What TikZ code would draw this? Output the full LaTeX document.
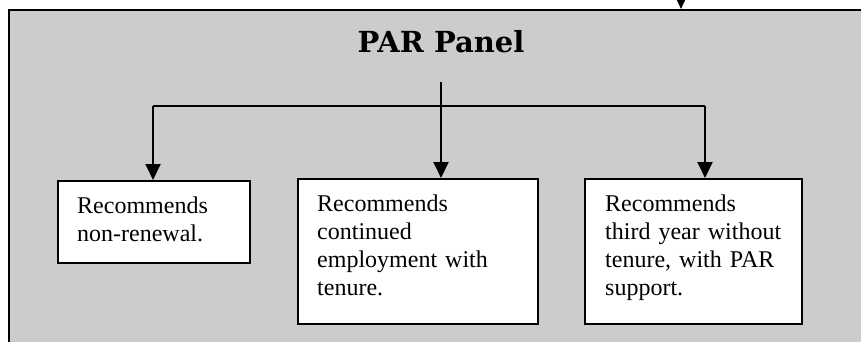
\documentclass[tikz,border=0pt]{standalone}
\usepackage{fontspec}
\setmainfont{Liberation Serif}
\newfontfamily\titlefont{DejaVu Serif}
\usetikzlibrary{arrows.meta,calc}
\definecolor{panelgray}{HTML}{CCCCCC}
\tikzset{
  x=1pt, y=-1pt,
  choicebox/.style={draw=black, line width=1.5pt, fill=white, rectangle,
    inner sep=0pt, anchor=north west},
  choicetext/.style={anchor=base west, inner sep=0pt, text width=#1,
    align=left, font=\fontsize{24}{28}\selectfont},
  branch/.style={line width=2pt},
  arrowline/.style={line width=2pt, -{Triangle[width=15pt,length=16pt]}},
  inarrow/.style={line width=1.5pt, -{Triangle[width=8pt,length=9pt]}},
}
\begin{document}
\begin{tikzpicture}
  \useasboundingbox (0,0) rectangle (861,342);
  % panel background with its left and top border
  \fill[panelgray] (9,10) rectangle (861,342);
  \draw[line width=2.5pt] (9,342) -- (9,10) -- (861,10);
  % incoming arrow at the top edge
  \coordinate (inStart) at (681,0);
  \coordinate (inEnd) at (681,9);
  \draw[inarrow] (inStart) -- (inEnd);
  % title
  \node[font=\fontsize{29}{34}\titlefont\bfseries, anchor=base] (title) at (441,53) {PAR Panel};
  % outcome boxes
  \node[choicebox, minimum width=192pt, minimum height=82pt] (b1) at (57,180) {};
  \node[choicebox, minimum width=240pt, minimum height=145pt] (b2) at (297,178) {};
  \node[choicebox, minimum width=217pt, minimum height=145pt] (b3) at (584,178) {};
  \node[choicetext=170pt] (t1) at ($(b1.north west)+(20,33)$) {Recommends\\non-renewal.};
  \node[choicetext=210pt] (t2) at ($(b2.north west)+(20,33)$) {Recommends\\continued\\employment with\\tenure.};
  \node[choicetext=190pt] (t3) at ($(b3.north west)+(21,33)$) {Recommends\\third year without\\tenure, with PAR\\support.};
  % branching connectors
  \coordinate (stem) at (441,82);
  \coordinate (barL) at (153,106);
  \coordinate (barR) at (705,106);
  \draw[branch] (barL) -- (barR);
  \draw[arrowline] (stem) -- (stem |- b2.north);
  \draw[arrowline] (barL) -- (barL |- b1.north);
  \draw[arrowline] (barR) -- (barR |- b3.north);
\end{tikzpicture}
\end{document}
